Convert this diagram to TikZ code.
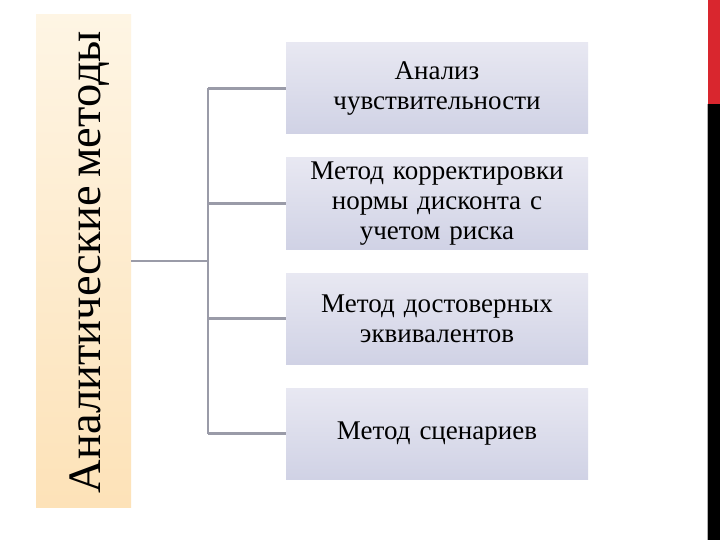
\documentclass[tikz,border=0pt]{standalone}
\usepackage{fontspec}
\setmainfont[WordSpace=0.75]{Liberation Serif}
\definecolor{boxtop}{HTML}{E8E8F2}
\definecolor{boxbot}{HTML}{D0D2E5}
\definecolor{lefttop}{HTML}{FEF5E4}
\definecolor{leftbot}{HTML}{FDE2B8}
\definecolor{conn}{HTML}{9A9BA8}
\definecolor{redbar}{HTML}{D9262E}
\tikzset{
  item/.style={rectangle, minimum width=302pt, minimum height=91pt, top color=boxtop, bottom color=boxbot, draw=none, align=center, text width=296pt, font=\fontsize{27}{30}\selectfont, inner sep=0pt},
  conn/.style={draw=conn, line width=2.2pt}
}
\begin{document}
\begin{tikzpicture}[x=1pt,y=-1pt]
\useasboundingbox (0,0) rectangle (720,540);
\fill[white] (0,0) rectangle (720,540);
% right bars
\fill[redbar] (708,0) rectangle (720,104);
\fill[black] (708,104) rectangle (720,540);
\draw[gray!60, line width=0.6pt] (707.5,104) -- (707.5,540);
% left box
\node[rectangle, minimum width=95pt, minimum height=492pt, top color=lefttop, bottom color=leftbot, draw=none, inner sep=0pt] (root) at (83.5,261) {};
\node[rotate=90, font=\fontsize{46.5}{52}\selectfont] (roottext) at (90,262) {Аналитические методы};
% items
\node[item] (a) at (437,88.5) {Анализ\\чувствительности};
\node[item] (b) at (437,203.5) {Метод корректировки\\нормы дисконта с\\учетом риска};
\node[item] (c) at (437,318.5) {Метод достоверных\\эквивалентов};
\node[item] (d) at (437,433.5) {Метод сценариев};
% connectors
\coordinate (j) at (208,261);
\draw[conn] (root.east |- j) -- (j);
\draw[conn] (j |- a.west) -- (j |- d.west);
\draw[conn] (j |- a.west) -- (a.west);
\draw[conn] (j |- b.west) -- (b.west);
\draw[conn] (j |- c.west) -- (c.west);
\draw[conn] (j |- d.west) -- (d.west);
\end{tikzpicture}
\end{document}
